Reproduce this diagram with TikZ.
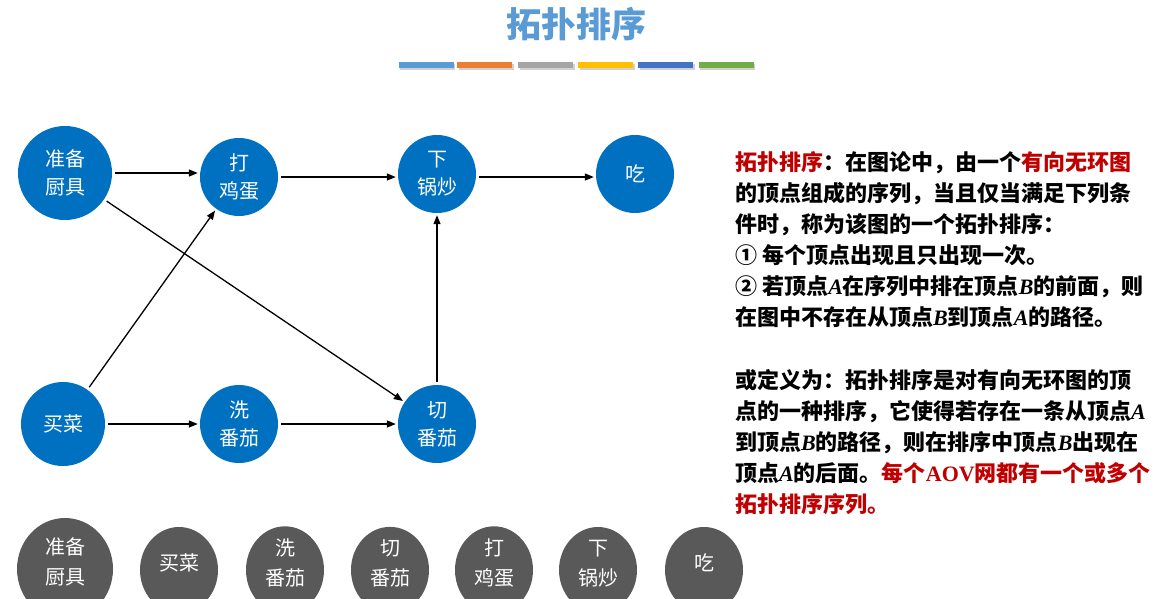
\documentclass[tikz,border=0pt]{standalone}
\usepackage{fontspec}
\newfontfamily\cjk{Noto Sans CJK SC}
\newfontfamily\ser{Liberation Serif}
\usetikzlibrary{arrows.meta,shapes.geometric}
\definecolor{nblue}{RGB}{0,112,192}
\definecolor{tblue}{RGB}{91,155,213}
\definecolor{ngray}{RGB}{89,89,89}
\definecolor{dred}{RGB}{192,0,0}
\definecolor{b1}{RGB}{91,155,213}
\definecolor{b2}{RGB}{237,125,49}
\definecolor{b3}{RGB}{165,165,165}
\definecolor{b4}{RGB}{255,192,0}
\definecolor{b5}{RGB}{68,114,196}
\definecolor{b6}{RGB}{112,173,71}
\newcommand{\vA}{{\ser\bfseries\itshape A}}
\newcommand{\vB}{{\ser\bfseries\itshape B}}
\newcommand{\rd}[1]{\textcolor{dred}{#1}}
\tikzset{
  bnode/.style={circle,fill=nblue,text=white,inner sep=0pt,minimum size=78pt,align=center,
    font=\cjk\fontsize{20}{28}\selectfont},
  bignode/.style={bnode,minimum size=94pt},
  gnode/.style={ellipse,fill=ngray,text=white,inner sep=0pt,minimum width=78pt,minimum height=86pt,align=center,
    text depth=15pt,font=\cjk\fontsize{20}{30}\selectfont},
  conn/.style={-{Triangle[length=9pt,width=7pt]},line width=1.3pt,shorten <=3pt,shorten >=2pt},
  txt/.style={anchor=base west,inner sep=0pt,font=\cjk\bfseries\fontsize{22}{31}\selectfont},
  bar/.style={minimum width=55pt,minimum height=6pt,inner sep=0pt}
}
\begin{document}
\begin{tikzpicture}[x=1pt,y=-1pt]
\useasboundingbox (0,0) rectangle (1166,598);
\fill[white] (0,0) rectangle (1166,598);
% title
\node[font=\cjk\bfseries\fontsize{35}{40}\selectfont,text=tblue] (title) at (576,24) {拓扑排序};
% colour bars
\foreach \c/\x [count=\i] in {b1/426,b2/484.5,b3/545.5,b4/605.5,b5/665.5,b6/726}{
  \fill[black,opacity=0.18] (\x-27.5+1.5,62+1.5) rectangle (\x+27.5+1.5,68+1.5);
  \node[bar,fill=\c] (bar\i) at (\x,65) {};
}
% graph nodes
\node[bignode] (zb) at (65,173) {准备\\厨具};
\node[bnode] (dj) at (239,177) {打\\鸡蛋};
\node[bnode] (xg) at (437,174) {下\\锅炒};
\node[bnode] (ch) at (635,174) {吃};
\node[bnode,minimum size=84pt] (mc) at (63,424) {买菜};
\node[bnode] (xf) at (239,424) {洗\\番茄};
\node[bnode] (qf) at (437,424) {切\\番茄};
% connectors
\draw[conn] (zb.east) -- (zb.east -| dj.west);
\draw[conn] (dj) -- (dj -| xg.west);
\draw[conn] (xg.east |- dj) -- (ch.west |- dj);
\draw[conn] (zb) -- (qf);
\draw[conn] (mc) -- (dj);
\draw[conn] (mc) -- (xf);
\draw[conn] (xf) -- (qf);
\draw[conn] (qf) -- (xg);
% bottom sequence
\node[gnode,minimum width=96pt,minimum height=102pt] (s1) at (65,569) {准备\\厨具};
\node[gnode] (s2) at (179,570) {买菜};
\node[gnode] (s3) at (285,570) {洗\\番茄};
\node[gnode] (s4) at (390,570) {切\\番茄};
\node[gnode] (s5) at (494,570) {打\\鸡蛋};
\node[gnode] (s6) at (598,570) {下\\锅炒};
\node[gnode] (s7) at (704,570) {吃};
% text
\node[txt] (t1) at (735,170) {\rd{拓扑排序}：在图论中，由一个\rd{有向无环图}};
\node[txt] (t2) at (735,201) {的顶点组成的序列，当且仅当满足下列条};
\node[txt] (t3) at (735,232) {件时，称为该图的一个拓扑排序：};
\node[txt] (t4) at (735,263) {① 每个顶点出现且只出现一次。};
\node[txt] (t5) at (735,294) {② 若顶点\vA 在序列中排在顶点\vB 的前面，则};
\node[txt] (t6) at (735,325) {在图中不存在从顶点\vB 到顶点\vA 的路径。};
\node[txt] (t7) at (735,388) {或定义为：拓扑排序是对有向无环图的顶};
\node[txt] (t8) at (735,419) {点的一种排序，它使得若存在一条从顶点\vA};
\node[txt] (t9) at (735,450) {到顶点\vB 的路径，则在排序中顶点\vB 出现在};
\node[txt] (t10) at (735,481) {顶点\vA 的后面。\rd{每个{\ser\bfseries AOV}网都有一个或多个}};
\node[txt] (t11) at (735,512) {\rd{拓扑排序序列。}};
\end{tikzpicture}
\end{document}
